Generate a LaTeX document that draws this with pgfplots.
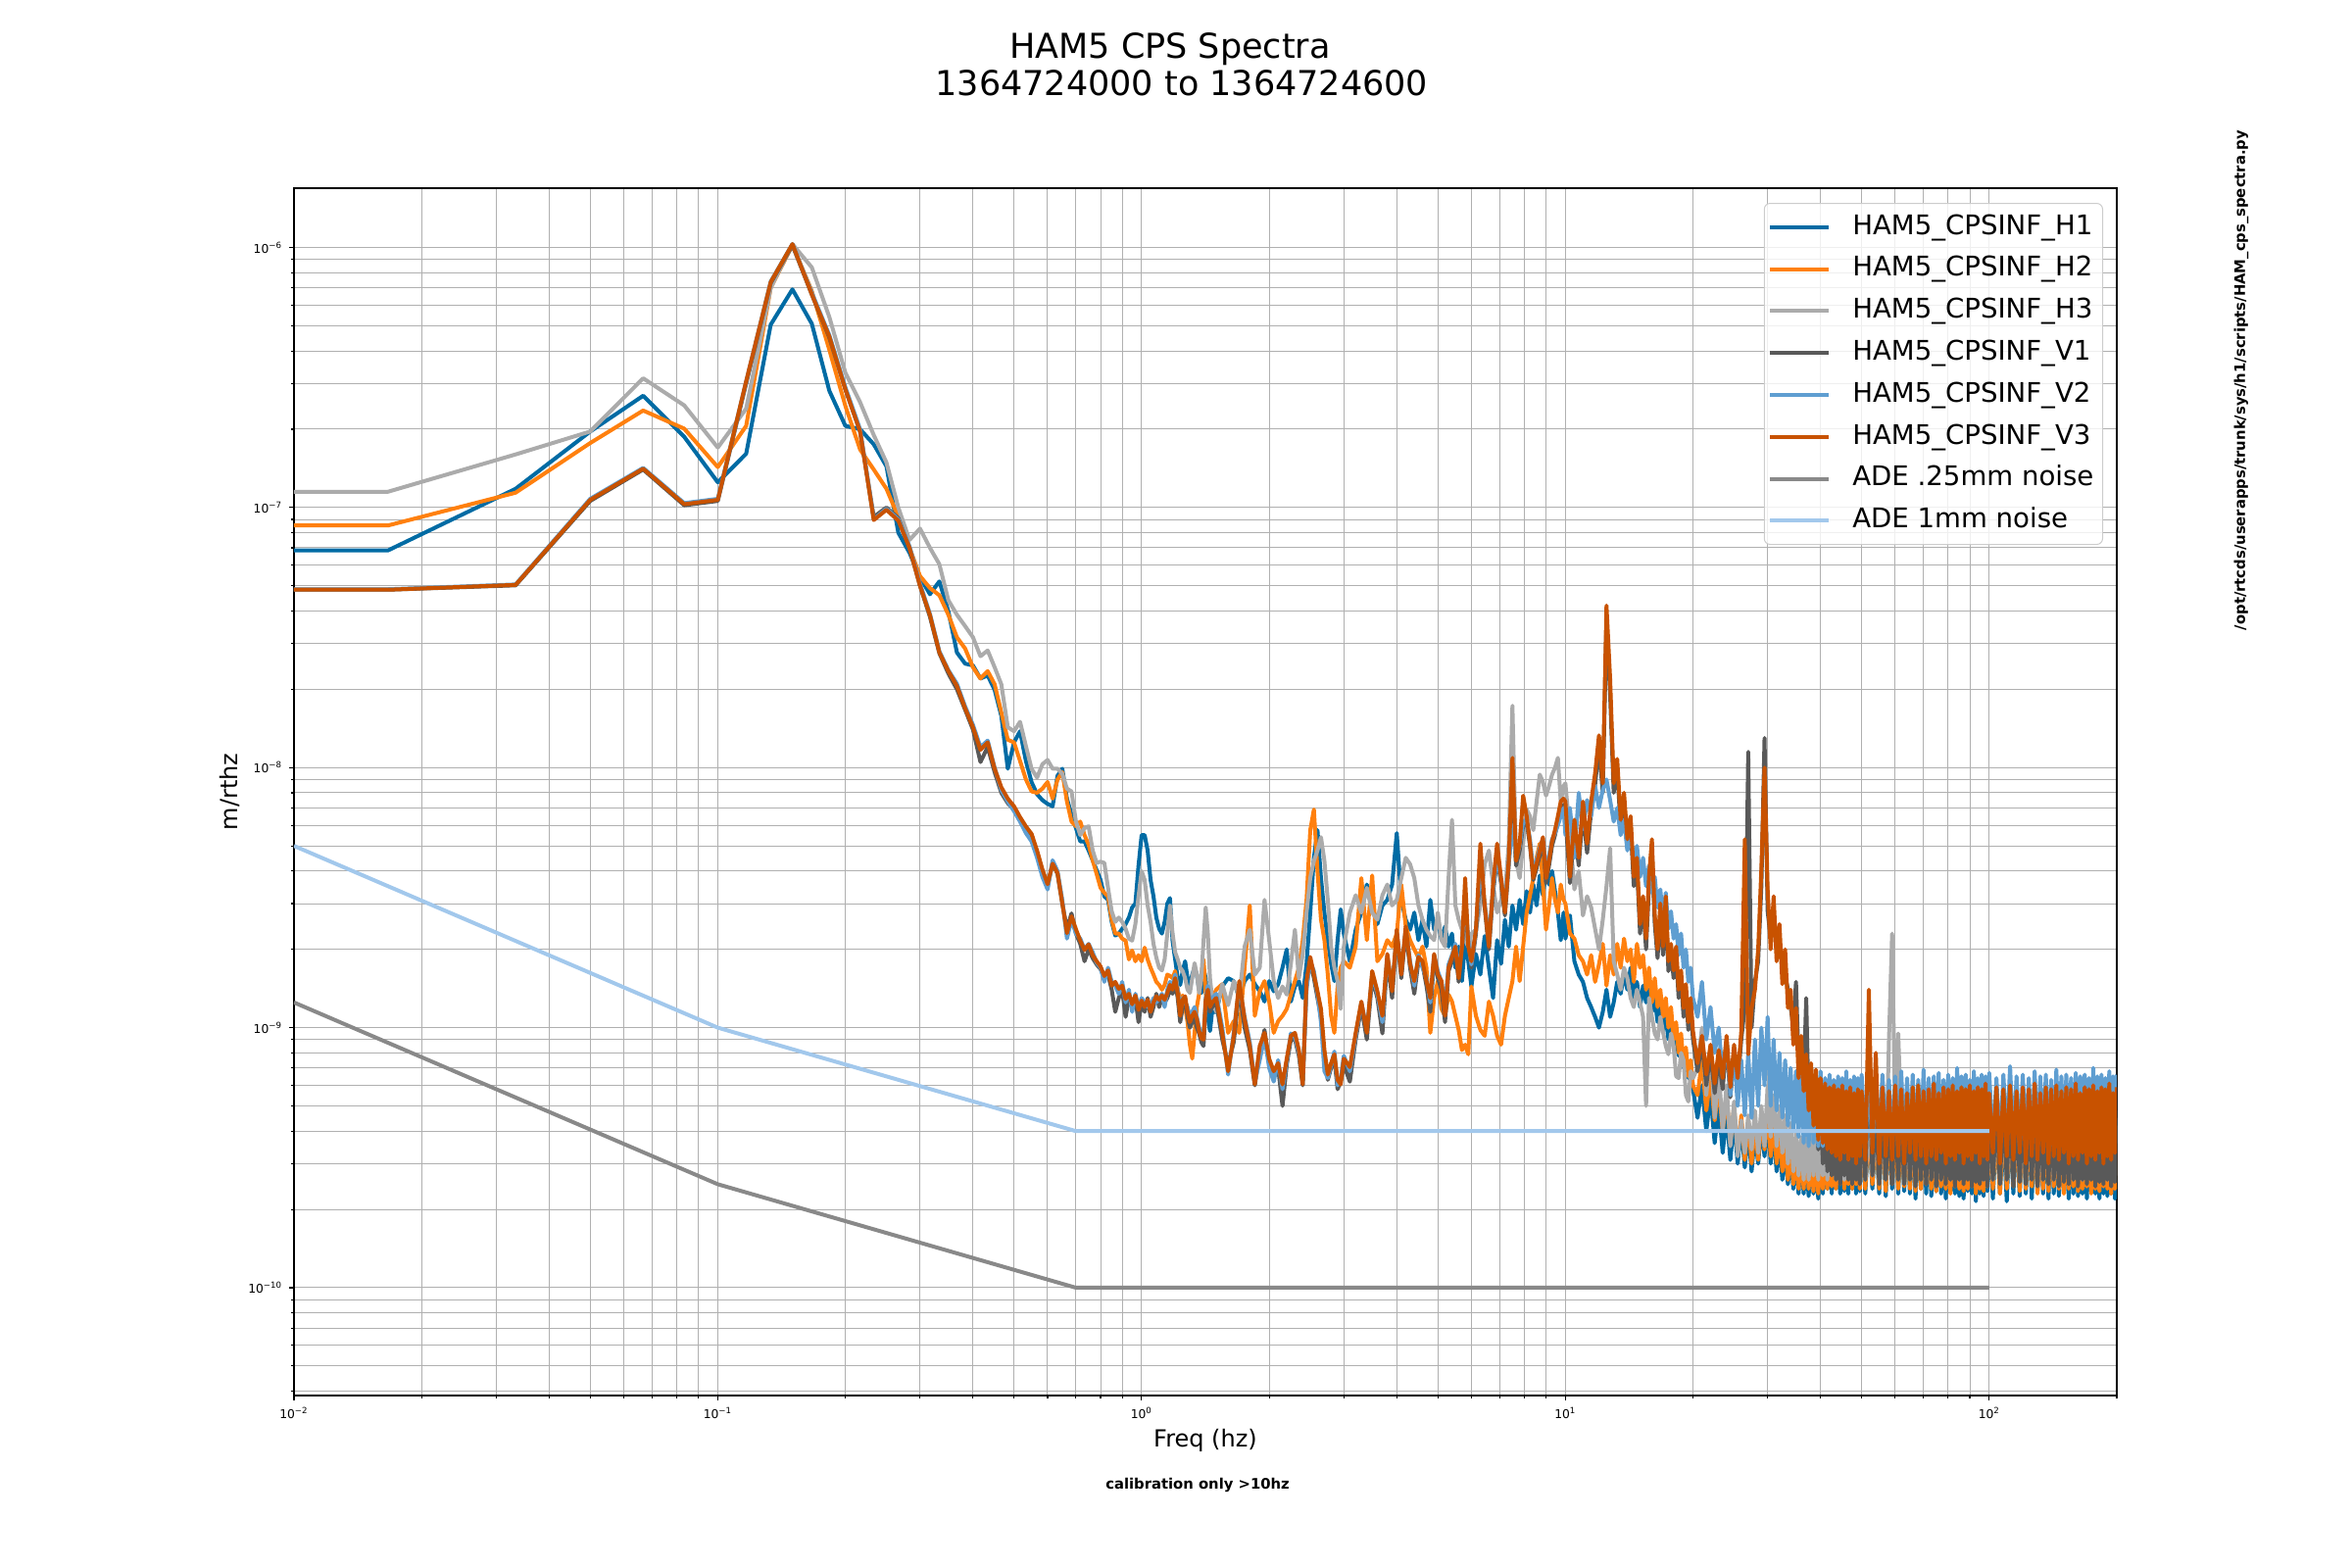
\documentclass[border=0pt]{standalone}
\usepackage{fontspec}
\setmainfont{DejaVu Sans}
\usepackage{pgfplots}
\usepackage{pgfplotstable}
\pgfplotsset{compat=1.18}
\definecolor{cH1}{HTML}{006BA4}
\definecolor{cH2}{HTML}{FF800E}
\definecolor{cH3}{HTML}{ABABAB}
\definecolor{cV1}{HTML}{595959}
\definecolor{cV2}{HTML}{5F9ED1}
\definecolor{cV3}{HTML}{C85200}
\definecolor{cA25}{HTML}{898989}
\definecolor{cA1}{HTML}{A2C8EC}
\definecolor{gridc}{HTML}{B0B0B0}
\definecolor{legc}{HTML}{CCCCCC}
\pgfplotstableread{
f H1 H2 H3 V1 V2 V3
0.01 6.84e-8 8.53e-8 1.15e-7 4.83e-8 4.85e-8 4.83e-8
0.016667 6.84e-8 8.53e-8 1.15e-7 4.83e-8 4.85e-8 4.83e-8
0.033333 1.18e-7 1.14e-7 1.60e-7 5.02e-8 5.06e-8 5.04e-8
0.05 1.96e-7 1.77e-7 1.96e-7 1.06e-7 1.08e-7 1.07e-7
0.066667 2.69e-7 2.36e-7 3.14e-7 1.40e-7 1.42e-7 1.41e-7
0.083333 1.87e-7 2.01e-7 2.47e-7 1.02e-7 1.04e-7 1.03e-7
0.1 1.25e-7 1.43e-7 1.70e-7 1.06e-7 1.08e-7 1.07e-7
0.116667 1.61e-7 2.06e-7 2.40e-7 3.00e-7 3.05e-7 3.06e-7
0.133333 5.05e-7 7.00e-7 7.00e-7 7.30e-7 7.40e-7 7.36e-7
0.15 6.90e-7 1.02e-6 1.03e-6 1.02e-6 1.03e-6 1.03e-6
0.166667 5.09e-7 6.80e-7 8.38e-7 6.60e-7 6.70e-7 6.60e-7
0.183333 2.81e-7 4.04e-7 5.40e-7 4.50e-7 4.60e-7 4.54e-7
0.2 2.06e-7 2.46e-7 3.30e-7 2.85e-7 2.90e-7 2.85e-7
0.216667 2.00e-7 1.67e-7 2.54e-7 1.96e-7 2.00e-7 1.96e-7
0.233333 1.75e-7 1.40e-7 1.90e-7 9.20e-8 9.00e-8 8.95e-8
0.25 1.44e-7 1.18e-7 1.49e-7 1.00e-7 9.90e-8 9.80e-8
0.266667 8.00e-8 9.20e-8 1.00e-7 9.10e-8 9.00e-8 8.90e-8
0.283333 6.70e-8 7.00e-8 7.50e-8 7.00e-8 7.10e-8 7.00e-8
0.3 5.40e-8 5.45e-8 8.30e-8 5.00e-8 5.10e-8 5.00e-8
0.316667 4.64e-8 4.90e-8 7.00e-8 3.80e-8 3.90e-8 3.86e-8
0.333333 5.20e-8 4.60e-8 6.05e-8 2.75e-8 2.80e-8 2.77e-8
0.35 3.99e-8 3.87e-8 4.40e-8 2.30e-8 2.37e-8 2.35e-8
0.366667 2.77e-8 3.17e-8 3.87e-8 2.00e-8 2.10e-8 2.06e-8
0.383333 2.51e-8 2.87e-8 3.50e-8 1.67e-8 1.72e-8 1.69e-8
0.4 2.47e-8 2.43e-8 3.17e-8 1.40e-8 1.46e-8 1.43e-8
0.416667 2.20e-8 2.20e-8 2.68e-8 1.05e-8 1.20e-8 1.17e-8
0.433333 2.26e-8 2.35e-8 2.82e-8 1.20e-8 1.27e-8 1.25e-8
0.45 1.99e-8 2.09e-8 2.43e-8 9.60e-9 1.00e-8 9.90e-9
0.466667 1.58e-8 1.63e-8 2.09e-8 8.00e-9 8.20e-9 8.40e-9
0.483333 9.90e-9 1.28e-8 1.43e-8 7.30e-9 7.40e-9 7.60e-9
0.5 1.25e-8 1.25e-8 1.38e-8 6.90e-9 6.80e-9 7.10e-9
0.516667 1.38e-8 1.06e-8 1.50e-8 6.30e-9 6.20e-9 6.45e-9
0.533333 1.06e-8 9.00e-9 1.21e-8 5.90e-9 5.60e-9 5.94e-9
0.55 8.80e-9 8.10e-9 9.90e-9 5.50e-9 5.20e-9 5.56e-9
0.566667 7.90e-9 8.00e-9 9.15e-9 4.70e-9 4.50e-9 4.80e-9
0.583333 7.50e-9 8.30e-9 1.03e-8 4.00e-9 3.80e-9 4.06e-9
0.6 7.25e-9 8.80e-9 1.07e-8 3.50e-9 3.40e-9 3.56e-9
0.616667 7.10e-9 7.60e-9 9.90e-9 4.30e-9 4.40e-9 4.27e-9
0.633333 9.30e-9 9.00e-9 9.90e-9 3.90e-9 4.00e-9 3.93e-9
0.65 9.90e-9 9.60e-9 9.45e-9 3.00e-9 3.10e-9 3.01e-9
0.666667 7.60e-9 7.40e-9 8.30e-9 2.40e-9 2.20e-9 2.31e-9
0.683333 6.60e-9 6.20e-9 8.10e-9 2.75e-9 2.60e-9 2.68e-9
0.7 5.85e-9 5.95e-9 6.20e-9 2.30e-9 2.30e-9 2.39e-9
0.716667 5.20e-9 6.20e-9 5.50e-9 2.10e-9 2.20e-9 2.16e-9
0.733333 5.20e-9 5.50e-9 5.85e-9 1.80e-9 2.00e-9 1.99e-9
0.75 4.80e-9 5.05e-9 5.95e-9 2.00e-9 2.10e-9 2.09e-9
0.766667 4.40e-9 4.40e-9 4.80e-9 1.85e-9 1.95e-9 1.90e-9
0.783333 4.03e-9 3.90e-9 4.30e-9 1.75e-9 1.78e-9 1.80e-9
0.8 3.70e-9 3.45e-9 4.35e-9 1.68e-9 1.70e-9 1.72e-9
0.816667 3.20e-9 3.30e-9 4.30e-9 1.55e-9 1.50e-9 1.58e-9
0.833333 3.10e-9 3.20e-9 3.45e-9 1.60e-9 1.70e-9 1.66e-9
0.85 2.55e-9 2.60e-9 2.80e-9 1.40e-9 1.50e-9 1.45e-9
0.866667 2.26e-9 2.30e-9 2.55e-9 1.15e-9 1.45e-9 1.50e-9
0.883333 2.30e-9 2.30e-9 2.65e-9 1.30e-9 1.35e-9 1.41e-9
0.9 2.40e-9 2.20e-9 2.55e-9 1.40e-9 1.50e-9 1.45e-9
0.916667 2.50e-9 2.16e-9 2.40e-9 1.10e-9 1.25e-9 1.29e-9
0.933333 2.65e-9 1.83e-9 2.20e-9 1.30e-9 1.40e-9 1.35e-9
0.95 2.90e-9 1.98e-9 2.16e-9 1.20e-9 1.15e-9 1.23e-9
0.966667 3.00e-9 1.80e-9 2.50e-9 1.30e-9 1.35e-9 1.33e-9
0.983333 4.20e-9 1.90e-9 3.20e-9 1.05e-9 1.20e-9 1.17e-9
1.0 5.50e-9 1.80e-9 4.00e-9 1.25e-9 1.30e-9 1.27e-9
1.016667 5.50e-9 2.03e-9 3.70e-9 1.15e-9 1.25e-9 1.20e-9
1.033333 4.80e-9 1.83e-9 2.95e-9 1.30e-9 1.20e-9 1.28e-9
1.05 3.70e-9 1.70e-9 2.55e-9 1.10e-9 1.20e-9 1.15e-9
1.066667 3.20e-9 1.60e-9 2.10e-9 1.20e-9 1.30e-9 1.25e-9
1.083333 2.65e-9 1.50e-9 1.86e-9 1.35e-9 1.25e-9 1.32e-9
1.1 2.40e-9 1.46e-9 1.70e-9 1.20e-9 1.30e-9 1.28e-9
1.116667 2.30e-9 1.40e-9 1.66e-9 1.30e-9 1.35e-9 1.33e-9
1.133333 2.55e-9 1.46e-9 1.83e-9 1.25e-9 1.20e-9 1.28e-9
1.15 3.00e-9 1.60e-9 2.30e-9 1.30e-9 1.40e-9 1.36e-9
1.166667 3.15e-9 1.58e-9 2.95e-9 1.40e-9 1.50e-9 1.46e-9
1.183333 2.15e-9 1.55e-9 2.30e-9 1.35e-9 1.45e-9 1.40e-9
1.2 1.83e-9 1.65e-9 1.95e-9 1.50e-9 1.60e-9 1.55e-9
1.216667 1.55e-9 1.40e-9 1.83e-9 1.30e-9 1.40e-9 1.36e-9
1.233333 1.46e-9 1.28e-9 1.70e-9 1.05e-9 1.15e-9 1.11e-9
1.25 1.65e-9 1.33e-9 1.65e-9 1.20e-9 1.30e-9 1.28e-9
1.266667 1.80e-9 1.20e-9 1.55e-9 1.30e-9 1.25e-9 1.32e-9
1.283333 1.55e-9 1.05e-9 1.40e-9 1.10e-9 1.20e-9 1.15e-9
1.3 1.46e-9 8.60e-10 1.36e-9 1.00e-9 1.10e-9 1.05e-9
1.316667 1.60e-9 7.60e-10 1.55e-9 1.05e-9 1.15e-9 1.11e-9
1.333333 1.70e-9 9.50e-10 1.77e-9 1.10e-9 1.20e-9 1.15e-9
1.35 1.60e-9 1.20e-9 1.60e-9 1.00e-9 1.10e-9 1.08e-9
1.366667 1.40e-9 1.35e-9 1.36e-9 9.50e-10 1.00e-9 9.70e-10
1.383333 1.36e-9 1.60e-9 1.55e-9 8.80e-10 9.50e-10 9.10e-10
1.4 1.70e-9 1.83e-9 2.16e-9 8.50e-10 9.20e-10 9.00e-10
1.416667 1.55e-9 1.35e-9 2.90e-9 1.20e-9 1.30e-9 1.28e-9
1.433333 1.10e-9 1.25e-9 2.30e-9 1.35e-9 1.45e-9 1.40e-9
1.45 9.70e-10 1.28e-9 1.55e-9 1.15e-9 1.25e-9 1.20e-9
1.466667 1.15e-9 1.30e-9 1.30e-9 1.20e-9 1.30e-9 1.25e-9
1.5 1.15e-9 1.40e-9 1.15e-9 1.25e-9 1.35e-9 1.30e-9
1.55 1.44e-9 1.47e-9 1.47e-9 9.0e-10 1.0e-9 9.55e-10
1.6 1.55e-9 9.55e-10 1.22e-9 7.2e-10 6.6e-10 6.8e-10
1.65 1.51e-9 1.06e-9 1.51e-9 8.8e-10 9.6e-10 9.3e-10
1.7 1.30e-9 9.55e-10 1.30e-9 1.40e-9 1.45e-9 1.51e-9
1.75 1.51e-9 1.70e-9 2.05e-9 1.00e-9 1.10e-9 1.08e-9
1.8 1.60e-9 2.95e-9 2.38e-9 8.2e-10 8.8e-10 8.5e-10
1.85 1.47e-9 1.11e-9 1.60e-9 6.0e-10 6.2e-10 6.05e-10
1.9 1.38e-9 1.38e-9 1.70e-9 8.0e-10 7.5e-10 8.5e-10
1.95 1.26e-9 1.51e-9 3.10e-9 9.8e-10 9.2e-10 9.55e-10
2.0 1.51e-9 1.26e-9 2.17e-9 7.3e-10 7.0e-10 7.6e-10
2.05 1.38e-9 9.55e-10 1.51e-9 6.5e-10 6.2e-10 6.8e-10
2.1 1.47e-9 1.06e-9 1.30e-9 7.0e-10 7.5e-10 7.3e-10
2.15 1.70e-9 1.11e-9 1.44e-9 5.0e-10 5.8e-10 6.05e-10
2.2 2.00e-9 1.18e-9 1.34e-9 7.2e-10 7.4e-10 7.6e-10
2.25 1.26e-9 1.34e-9 1.76e-9 9.0e-10 9.5e-10 9.3e-10
2.3 1.44e-9 1.51e-9 2.38e-9 9.0e-10 9.2e-10 9.55e-10
2.35 1.51e-9 1.70e-9 1.55e-9 7.8e-10 8.0e-10 8.2e-10
2.4 1.30e-9 2.17e-9 1.92e-9 6.0e-10 6.3e-10 6.05e-10
2.45 1.76e-9 3.10e-9 2.77e-9 1.45e-9 1.40e-9 1.51e-9
2.5 2.77e-9 5.75e-9 3.76e-9 1.80e-9 1.80e-9 1.87e-9
2.55 4.50e-9 6.90e-9 4.38e-9 1.55e-9 1.65e-9 1.60e-9
2.6 5.75e-9 4.00e-9 4.80e-9 1.30e-9 1.35e-9 1.38e-9
2.65 3.76e-9 2.60e-9 5.40e-9 1.10e-9 1.05e-9 1.18e-9
2.7 2.77e-9 2.17e-9 4.38e-9 7.8e-10 6.8e-10 8.2e-10
2.75 2.17e-9 1.60e-9 3.10e-9 6.3e-10 6.4e-10 6.6e-10
2.8 1.76e-9 1.11e-9 2.05e-9 7.0e-10 7.2e-10 7.3e-10
2.85 1.51e-9 9.55e-10 1.70e-9 7.6e-10 8.1e-10 7.9e-10
2.9 2.17e-9 1.44e-9 1.51e-9 5.8e-10 6.0e-10 6.3e-10
2.95 2.85e-9 1.70e-9 1.18e-9 6.2e-10 6.4e-10 6.05e-10
3.0 2.30e-9 1.80e-9 2.05e-9 7.2e-10 7.8e-10 7.6e-10
3.1 1.80e-9 1.70e-9 2.77e-9 6.2e-10 6.8e-10 7.05e-10
3.2 2.38e-9 2.05e-9 3.23e-9 9.0e-10 9.3e-10 9.55e-10
3.3 2.77e-9 3.76e-9 2.77e-9 1.20e-9 1.25e-9 1.26e-9
3.4 3.55e-9 2.17e-9 3.45e-9 9.0e-10 9.8e-10 9.55e-10
3.5 2.95e-9 3.85e-9 2.77e-9 1.55e-9 1.60e-9 1.65e-9
3.6 2.50e-9 1.80e-9 2.60e-9 1.30e-9 1.35e-9 1.38e-9
3.7 2.95e-9 1.92e-9 3.23e-9 9.5e-10 1.05e-9 1.11e-9
3.8 3.10e-9 2.17e-9 3.55e-9 1.85e-9 1.90e-9 1.92e-9
3.9 3.55e-9 2.05e-9 2.95e-9 1.30e-9 1.40e-9 1.38e-9
4.0 5.60e-9 2.30e-9 3.10e-9 2.30e-9 2.30e-9 2.38e-9
4.1 3.10e-9 3.55e-9 3.76e-9 1.55e-9 1.65e-9 1.60e-9
4.2 2.60e-9 2.45e-9 4.50e-9 2.35e-9 2.40e-9 2.45e-9
4.3 2.38e-9 2.17e-9 4.25e-9 1.70e-9 1.80e-9 1.76e-9
4.4 2.77e-9 2.00e-9 3.76e-9 1.35e-9 1.45e-9 1.51e-9
4.5 2.17e-9 1.86e-9 2.95e-9 1.80e-9 1.90e-9 1.87e-9
4.6 2.60e-9 2.05e-9 2.60e-9 1.75e-9 1.70e-9 1.80e-9
4.7 2.05e-9 1.70e-9 2.38e-9 1.45e-9 1.55e-9 1.51e-9
4.8 3.10e-9 9.55e-10 2.25e-9 1.15e-9 1.25e-9 1.30e-9
4.9 2.38e-9 1.30e-9 2.17e-9 1.85e-9 1.90e-9 1.92e-9
5.0 2.60e-9 1.51e-9 2.77e-9 1.55e-9 1.65e-9 1.60e-9
5.1 2.17e-9 1.18e-9 2.17e-9 1.40e-9 1.50e-9 1.51e-9
5.2 2.45e-9 1.11e-9 2.05e-9 1.05e-9 1.20e-9 1.11e-9
5.3 2.05e-9 1.34e-9 3.76e-9 1.65e-9 1.75e-9 1.70e-9
5.4 2.30e-9 1.26e-9 6.30e-9 1.80e-9 1.90e-9 1.87e-9
5.5 1.70e-9 1.11e-9 2.95e-9 2.00e-9 2.10e-9 2.05e-9
5.6 2.05e-9 9.8e-10 2.60e-9 1.50e-9 1.60e-9 1.55e-9
5.7 1.51e-9 8.2e-10 2.38e-9 2.00e-9 2.10e-9 2.05e-9
5.8 2.17e-9 8.6e-10 2.17e-9 3.00e-9 3.20e-9 3.76e-9
5.9 1.80e-9 7.9e-10 2.05e-9 2.10e-9 2.15e-9 2.05e-9
6.0 1.44e-9 1.44e-9 2.30e-9 1.70e-9 1.75e-9 1.80e-9
6.15 1.92e-9 1.11e-9 2.38e-9 2.30e-9 2.40e-9 2.38e-9
6.3 1.60e-9 9.8e-10 2.95e-9 4.00e-9 4.20e-9 5.10e-9
6.45 2.25e-9 9.3e-10 4.25e-9 2.90e-9 3.00e-9 2.95e-9
6.6 1.70e-9 1.26e-9 4.80e-9 2.00e-9 2.20e-9 2.05e-9
6.75 1.30e-9 1.11e-9 3.55e-9 3.30e-9 3.40e-9 3.55e-9
6.9 2.17e-9 9.3e-10 2.77e-9 4.50e-9 4.60e-9 5.10e-9
7.05 1.76e-9 8.6e-10 3.10e-9 3.60e-9 3.70e-9 3.76e-9
7.2 2.60e-9 1.11e-9 3.23e-9 2.70e-9 2.90e-9 2.77e-9
7.35 2.05e-9 1.30e-9 5.10e-9 4.20e-9 4.30e-9 4.38e-9
7.5 2.95e-9 1.51e-9 1.73e-8 7.00e-9 6.00e-9 1.09e-8
7.65 2.38e-9 2.05e-9 4.38e-9 4.20e-9 4.50e-9 4.38e-9
7.8 3.10e-9 1.51e-9 3.76e-9 4.80e-9 5.00e-9 5.10e-9
7.95 2.50e-9 2.05e-9 5.10e-9 6.00e-9 6.20e-9 7.80e-9
8.1 3.35e-9 2.77e-9 6.90e-9 6.20e-9 6.30e-9 6.50e-9
8.25 2.77e-9 3.23e-9 6.50e-9 5.00e-9 5.30e-9 5.10e-9
8.4 3.55e-9 3.76e-9 5.75e-9 3.70e-9 4.00e-9 3.76e-9
8.55 2.95e-9 4.50e-9 7.40e-9 4.10e-9 4.40e-9 4.25e-9
8.7 3.85e-9 5.10e-9 9.40e-9 4.60e-9 4.90e-9 4.80e-9
8.85 3.23e-9 3.55e-9 8.80e-9 5.20e-9 5.30e-9 5.40e-9
9.0 4.00e-9 2.38e-9 7.80e-9 3.60e-9 4.00e-9 3.76e-9
9.15 3.55e-9 2.95e-9 8.50e-9 4.20e-9 4.60e-9 4.38e-9
9.3 4.00e-9 3.76e-9 9.40e-9 5.00e-9 5.30e-9 5.20e-9
9.45 3.35e-9 3.10e-9 1.00e-8 5.50e-9 5.60e-9 5.75e-9
9.6 2.77e-9 2.77e-9 1.09e-8 6.20e-9 6.00e-9 6.50e-9
9.75 2.17e-9 3.55e-9 7.40e-9 7.00e-9 6.50e-9 7.40e-9
9.9 2.77e-9 3.10e-9 8.50e-9 7.20e-9 7.00e-9 7.60e-9
10 2.2e-9 3.0e-9 8.7e-9 6.5e-9 5.5e-9 7.4e-9
10.25 2.7e-9 2.3e-9 5.5e-9 3.6e-9 7.0e-9 3.8e-9
10.5 1.8e-9 2.2e-9 3.4e-9 5.8e-9 4.5e-9 6.3e-9
10.75 1.6e-9 1.9e-9 4.0e-9 4.2e-9 8.0e-9 4.5e-9
11 1.5e-9 1.8e-9 2.7e-9 6.8e-9 5.8e-9 7.4e-9
11.25 1.3e-9 1.6e-9 3.2e-9 4.7e-9 7.5e-9 5.1e-9
11.5 1.2e-9 1.9e-9 2.9e-9 6.8e-9 6.5e-9 7.4e-9
11.75 1.1e-9 1.5e-9 2.4e-9 8.6e-9 8.5e-9 9.5e-9
12 1.0e-9 1.75e-9 2.0e-9 1.2e-8 7.0e-9 1.33e-8
12.25 1.15e-9 2.1e-9 2.6e-9 8.0e-9 8.2e-9 8.7e-9
12.5 1.4e-9 1.45e-9 3.5e-9 3.6e-8 9.0e-9 4.2e-8
12.75 1.1e-9 1.9e-9 4.9e-9 1.9e-8 7.5e-9 2.2e-8
13 1.25e-9 1.6e-9 1.8e-9 8.0e-9 6.2e-9 8.7e-9
13.25 1.5e-9 2.1e-9 1.6e-9 1.0e-8 7.0e-9 1.08e-8
13.5 1.35e-9 1.7e-9 1.4e-9 5.8e-9 5.5e-9 6.3e-9
13.75 1.6e-9 2.2e-9 1.7e-9 7.4e-9 6.3e-9 8.0e-9
14 1.4e-9 1.8e-9 1.55e-9 4.9e-9 4.8e-9 5.3e-9
14.25 1.7e-9 2.0e-9 1.3e-9 6.0e-9 5.6e-9 6.5e-9
14.5 1.3e-9 1.5e-9 1.2e-9 3.5e-9 4.3e-9 3.8e-9
14.75 1.5e-9 2.1e-9 1.4e-9 4.2e-9 5.0e-9 4.5e-9
15 1.2e-9 1.7e-9 1.25e-9 2.3e-9 3.8e-9 2.5e-9
15.25 1.45e-9 1.9e-9 1.1e-9 3.0e-9 4.5e-9 3.2e-9
15.5 1.25e-9 1.4e-9 5.0e-10 2.0e-9 3.5e-9 2.2e-9
15.75 1.4e-9 1.7e-9 1.3e-9 3.5e-9 4.2e-9 3.8e-9
16 1.15e-9 1.25e-9 1.1e-9 4.8e-9 3.3e-9 5.3e-9
16.25 1.3e-9 1.55e-9 9.5e-10 2.5e-9 3.8e-9 2.7e-9
16.5 1.05e-9 1.2e-9 9.0e-10 1.85e-9 2.9e-9 2.0e-9
16.75 1.2e-9 1.4e-9 1.1e-9 2.8e-9 3.4e-9 3.0e-9
17 9.8e-10 1.1e-9 9.6e-10 1.9e-9 2.6e-9 2.05e-9
17.25 1.1e-9 1.3e-9 8.5e-10 3.0e-9 3.3e-9 3.2e-9
17.5 9.0e-10 1.0e-9 7.9e-10 1.65e-9 2.4e-9 1.8e-9
17.75 1.0e-9 1.2e-9 9.5e-10 1.95e-9 2.8e-9 2.1e-9
18 8.5e-10 9.0e-10 8.5e-10 1.55e-9 2.2e-9 1.66e-9
18.25 9.2e-10 1.05e-9 6.5e-10 1.9e-9 2.5e-9 2.05e-9
18.5 7.8e-10 8.0e-10 6.4e-10 1.3e-9 1.9e-9 1.4e-9
18.75 8.6e-10 9.5e-10 8.0e-10 1.55e-9 2.3e-9 1.66e-9
19 7.0e-10 7.2e-10 7.5e-10 1.1e-9 1.7e-9 1.19e-9
19.25 7.8e-10 8.4e-10 5.5e-10 1.35e-9 2.0e-9 1.47e-9
19.5 6.4e-10 6.5e-10 5.2e-10 9.8e-10 1.5e-9 1.05e-9
19.75 7.2e-10 7.5e-10 6.8e-10 1.2e-9 1.7e-9 1.3e-9
20 5.8e-10 6.0e-10 6.4e-10 9.0e-10 1.3e-9 9.7e-10
20.5 4.5e-10 5.5e-10 7.0e-10 6.8e-10 1.1e-9 7.3e-10
21 6.0e-10 7.5e-10 1.0e-9 8.8e-10 1.5e-9 9.3e-10
21.5 4.0e-10 4.8e-10 5.5e-10 6.0e-10 9.0e-10 6.6e-10
22 5.5e-10 6.5e-10 8.5e-10 8.0e-10 1.2e-9 8.6e-10
22.5 3.6e-10 4.4e-10 4.5e-10 5.6e-10 8.0e-10 6.1e-10
23 5.0e-10 6.0e-10 7.0e-10 7.6e-10 1.0e-9 8.2e-10
23.5 3.3e-10 4.0e-10 4.0e-10 5.8e-10 6.5e-10 6.4e-10
24 4.6e-10 5.5e-10 6.0e-10 8.8e-10 9.0e-10 9.3e-10
24.5 3.1e-10 3.6e-10 3.5e-10 5.4e-10 5.5e-10 5.9e-10
25 4.4e-10 5.0e-10 5.2e-10 8.0e-10 8.0e-10 8.6e-10
25.5 3.0e-10 3.3e-10 3.2e-10 6.0e-10 5.0e-10 6.4e-10
26 4.2e-10 4.6e-10 4.4e-10 9.0e-10 7.5e-10 9.7e-10
26.5 2.9e-10 3.1e-10 3.3e-10 1.2e-9 4.6e-10 5.3e-9
27 4.0e-10 4.4e-10 4.6e-10 1.15e-8 8.0e-10 7.9e-10
27.5 2.8e-10 3.0e-10 3.4e-10 1.0e-9 4.5e-10 1.19e-9
28 3.9e-10 4.3e-10 4.8e-10 1.5e-9 9.0e-10 1.4e-9
28.5 3.0e-10 3.1e-10 3.3e-10 1.8e-9 5.0e-10 2.0e-9
29 4.2e-10 4.6e-10 5.0e-10 3.5e-9 1.0e-9 4.1e-9
29.5 3.2e-10 3.4e-10 3.5e-10 1.3e-8 6.0e-10 1.0e-8
30 4.5e-10 5.0e-10 6.0e-10 2.8e-9 1.1e-9 3.4e-9
30.5 3.0e-10 3.2e-10 3.8e-10 2.2e-9 5.0e-10 2.0e-9
31 4.0e-10 4.4e-10 5.5e-10 2.4e-9 9.0e-10 3.2e-9
31.5 2.8e-10 3.0e-10 3.5e-10 2.3e-9 4.8e-10 1.8e-9
32 3.6e-10 4.0e-10 5.0e-10 2.0e-9 8.0e-10 2.5e-9
32.5 2.6e-10 2.8e-10 3.3e-10 1.9e-9 4.5e-10 1.47e-9
33 3.4e-10 3.6e-10 4.6e-10 1.6e-9 7.5e-10 2.0e-9
33.5 2.5e-10 2.6e-10 3.0e-10 1.4e-9 4.2e-10 1.19e-9
34 3.3e-10 3.5e-10 4.3e-10 1.2e-9 7.0e-10 1.4e-9
34.5 2.4e-10 2.5e-10 2.8e-10 1.0e-9 4.0e-10 8.6e-10
35 3.2e-10 3.4e-10 4.0e-10 1.5e-9 6.8e-10 1.19e-9
35.5 2.3e-10 2.4e-10 2.7e-10 7.5e-10 3.8e-10 6.4e-10
36 3.3e-10 3.3e-10 3.8e-10 9.0e-10 7.2e-10 9.3e-10
36.5 2.3e-10 2.4e-10 2.6e-10 6.2e-10 3.6e-10 5.7e-10
37 3.1e-10 3.5e-10 4.0e-10 1.3e-9 6.6e-10 7.9e-10
37.5 2.25e-10 2.4e-10 2.6e-10 5.0e-10 3.5e-10 4.8e-10
38 3.4e-10 3.3e-10 3.9e-10 6.5e-10 7.0e-10 7.3e-10
38.5 2.3e-10 2.35e-10 2.7e-10 4.0e-10 3.6e-10 4.2e-10
39 3.2e-10 3.6e-10 4.1e-10 5.6e-10 6.6e-10 6.9e-10
39.5 2.2e-10 2.3e-10 2.6e-10 3.4e-10 3.5e-10 3.7e-10
40 3.5e-10 3.8e-10 4.2e-10 5.2e-10 6.8e-10 6.4e-10
40.5 2.3e-10 2.4e-10 2.7e-10 3.0e-10 3.5e-10 3.6e-10
41 3.8e-10 4.0e-10 4.3e-10 5.0e-10 6.4e-10 6.1e-10
41.5 2.4e-10 2.4e-10 2.6e-10 2.8e-10 3.6e-10 3.4e-10
42 4.0e-10 4.2e-10 4.4e-10 4.8e-10 6.6e-10 5.9e-10
42.5 2.3e-10 2.45e-10 2.7e-10 2.7e-10 3.5e-10 3.3e-10
43 4.2e-10 4.0e-10 4.2e-10 5.0e-10 6.3e-10 6.0e-10
43.5 2.4e-10 2.4e-10 2.6e-10 2.6e-10 3.7e-10 3.2e-10
44 4.0e-10 4.3e-10 4.5e-10 4.9e-10 6.5e-10 5.8e-10
44.5 2.3e-10 2.5e-10 2.7e-10 2.5e-10 3.5e-10 3.1e-10
45 4.3e-10 4.1e-10 4.3e-10 4.8e-10 6.4e-10 6.0e-10
45.5 2.35e-10 2.4e-10 2.6e-10 2.7e-10 3.6e-10 3.3e-10
46 4.1e-10 4.4e-10 4.4e-10 5.0e-10 6.8e-10 5.7e-10
46.5 2.3e-10 2.5e-10 2.7e-10 2.6e-10 3.5e-10 3.1e-10
47 4.4e-10 4.2e-10 4.2e-10 4.7e-10 6.3e-10 5.9e-10
47.5 2.4e-10 2.4e-10 2.6e-10 2.5e-10 3.6e-10 3.2e-10
48 4.2e-10 4.4e-10 4.4e-10 4.9e-10 6.5e-10 5.6e-10
48.5 2.3e-10 2.5e-10 2.7e-10 2.6e-10 3.5e-10 3.0e-10
49 4.4e-10 4.3e-10 4.3e-10 4.8e-10 6.4e-10 5.8e-10
49.5 2.35e-10 2.4e-10 2.6e-10 2.5e-10 3.6e-10 3.2e-10
50 4.3e-10 4.4e-10 4.4e-10 4.9e-10 6.6e-10 5.7e-10
51 2.3e-10 2.4e-10 2.6e-10 2.6e-10 3.6e-10 3.1e-10
52 4.2e-10 4.3e-10 4.4e-10 8.0e-10 6.6e-10 1.40e-9
53 2.4e-10 2.5e-10 2.7e-10 2.7e-10 3.5e-10 3.3e-10
54 4.0e-10 4.1e-10 4.3e-10 5.0e-10 6.4e-10 8.0e-10
55 2.3e-10 2.4e-10 2.6e-10 2.5e-10 3.7e-10 3.0e-10
56 4.3e-10 4.4e-10 4.5e-10 4.8e-10 6.6e-10 5.9e-10
57 2.25e-10 2.35e-10 2.6e-10 2.6e-10 3.5e-10 3.2e-10
58 4.1e-10 4.2e-10 9.0e-10 4.9e-10 6.3e-10 5.7e-10
59 2.4e-10 2.5e-10 2.3e-9 2.5e-10 3.6e-10 3.1e-10
60 4.4e-10 4.3e-10 4.4e-10 5.0e-10 6.5e-10 6.0e-10
61 2.3e-10 2.4e-10 9.5e-10 2.6e-10 3.5e-10 3.2e-10
62 4.2e-10 4.4e-10 4.3e-10 4.8e-10 6.8e-10 5.8e-10
63 2.35e-10 2.45e-10 2.7e-10 2.5e-10 3.6e-10 3.0e-10
64 4.0e-10 4.2e-10 4.5e-10 5.1e-10 6.4e-10 5.6e-10
65 2.3e-10 2.4e-10 2.6e-10 2.6e-10 3.7e-10 3.3e-10
66 4.3e-10 4.1e-10 4.4e-10 4.9e-10 6.6e-10 5.9e-10
67 2.2e-10 2.35e-10 2.6e-10 2.45e-10 3.5e-10 3.1e-10
68 4.1e-10 4.3e-10 4.2e-10 5.0e-10 6.3e-10 6.0e-10
69 2.4e-10 2.4e-10 2.7e-10 2.6e-10 3.6e-10 3.2e-10
70 4.4e-10 4.2e-10 4.5e-10 4.8e-10 6.9e-10 5.7e-10
71 2.3e-10 2.5e-10 2.6e-10 2.5e-10 3.5e-10 3.0e-10
72 4.2e-10 4.4e-10 4.3e-10 5.0e-10 6.4e-10 5.8e-10
73 2.25e-10 2.4e-10 2.7e-10 2.6e-10 3.7e-10 3.2e-10
74 4.0e-10 4.1e-10 4.4e-10 4.9e-10 6.5e-10 6.1e-10
75 2.35e-10 2.35e-10 2.6e-10 2.45e-10 3.6e-10 3.1e-10
76 4.3e-10 4.3e-10 4.5e-10 5.1e-10 6.7e-10 5.6e-10
77 2.3e-10 2.45e-10 2.6e-10 2.6e-10 3.5e-10 3.3e-10
78 4.1e-10 4.2e-10 4.3e-10 4.8e-10 6.3e-10 5.9e-10
79 2.2e-10 2.4e-10 2.7e-10 2.5e-10 3.6e-10 3.0e-10
80 4.4e-10 4.4e-10 4.4e-10 5.0e-10 6.6e-10 5.8e-10
81 2.35e-10 2.3e-10 2.6e-10 2.6e-10 3.7e-10 3.2e-10
82 4.2e-10 4.2e-10 4.2e-10 4.9e-10 6.4e-10 6.0e-10
83 2.3e-10 2.45e-10 2.7e-10 2.45e-10 3.5e-10 3.1e-10
84 4.0e-10 4.3e-10 4.5e-10 5.0e-10 7.0e-10 5.7e-10
85 2.25e-10 2.4e-10 2.6e-10 2.6e-10 3.6e-10 3.3e-10
86 4.3e-10 4.1e-10 4.4e-10 4.8e-10 6.5e-10 5.9e-10
87 2.2e-10 2.35e-10 2.6e-10 2.5e-10 3.5e-10 3.0e-10
88 4.1e-10 4.4e-10 4.3e-10 5.1e-10 6.6e-10 5.8e-10
89 2.35e-10 2.4e-10 2.7e-10 2.6e-10 3.7e-10 3.2e-10
90 4.4e-10 4.2e-10 4.5e-10 4.9e-10 6.3e-10 6.0e-10
91 2.3e-10 2.45e-10 2.6e-10 2.45e-10 3.6e-10 3.1e-10
92 4.2e-10 4.3e-10 4.4e-10 5.0e-10 6.8e-10 5.7e-10
93 2.15e-10 2.3e-10 2.6e-10 2.55e-10 3.5e-10 3.3e-10
94 4.0e-10 4.2e-10 4.2e-10 4.8e-10 6.4e-10 5.9e-10
95 2.3e-10 2.4e-10 2.7e-10 2.5e-10 3.6e-10 3.0e-10
96 4.3e-10 4.4e-10 4.5e-10 5.0e-10 6.6e-10 5.8e-10
97 2.25e-10 2.35e-10 2.6e-10 2.6e-10 3.7e-10 3.2e-10
98 4.1e-10 4.1e-10 4.3e-10 4.9e-10 6.5e-10 6.1e-10
99 2.35e-10 2.45e-10 2.6e-10 2.45e-10 3.5e-10 3.1e-10
100 4.4e-10 4.3e-10 4.4e-10 5.1e-10 6.7e-10 5.6e-10
102 2.2e-10 2.4e-10 2.6e-10 2.6e-10 3.6e-10 3.3e-10
104 4.2e-10 4.2e-10 4.5e-10 4.8e-10 6.4e-10 5.9e-10
106 2.3e-10 2.3e-10 2.7e-10 2.5e-10 3.5e-10 3.0e-10
108 4.0e-10 4.4e-10 4.3e-10 5.0e-10 6.6e-10 5.8e-10
110 2.15e-10 2.4e-10 2.6e-10 2.6e-10 3.7e-10 3.2e-10
112 4.3e-10 4.3e-10 4.4e-10 4.9e-10 7.1e-10 6.0e-10
114 2.3e-10 2.45e-10 2.7e-10 2.45e-10 3.6e-10 3.1e-10
116 4.1e-10 4.1e-10 4.2e-10 5.0e-10 6.5e-10 5.7e-10
118 2.25e-10 2.35e-10 2.6e-10 2.55e-10 3.5e-10 3.3e-10
120 4.4e-10 4.4e-10 4.5e-10 4.8e-10 6.6e-10 5.9e-10
122 2.3e-10 2.4e-10 2.6e-10 2.5e-10 3.7e-10 3.0e-10
124 4.2e-10 4.2e-10 4.3e-10 5.1e-10 6.4e-10 5.8e-10
126 2.2e-10 2.45e-10 2.7e-10 2.6e-10 3.6e-10 3.2e-10
128 4.0e-10 4.3e-10 4.4e-10 4.9e-10 6.8e-10 6.1e-10
130 2.35e-10 2.3e-10 2.6e-10 2.45e-10 3.5e-10 3.1e-10
132 4.3e-10 4.1e-10 4.5e-10 5.0e-10 6.5e-10 5.6e-10
134 2.3e-10 2.4e-10 2.6e-10 2.6e-10 3.7e-10 3.3e-10
136 4.1e-10 4.4e-10 4.3e-10 4.8e-10 6.6e-10 5.9e-10
138 2.2e-10 2.35e-10 2.7e-10 2.5e-10 3.6e-10 3.0e-10
140 4.4e-10 4.2e-10 4.4e-10 5.0e-10 6.3e-10 5.8e-10
142 2.3e-10 2.45e-10 2.6e-10 2.6e-10 3.5e-10 3.2e-10
144 4.2e-10 4.3e-10 4.2e-10 4.9e-10 6.9e-10 6.0e-10
146 2.25e-10 2.4e-10 2.6e-10 2.45e-10 3.7e-10 3.1e-10
148 4.0e-10 4.1e-10 4.5e-10 5.1e-10 6.5e-10 5.7e-10
150 2.35e-10 2.3e-10 2.7e-10 2.55e-10 3.6e-10 3.3e-10
152 4.3e-10 4.4e-10 4.4e-10 4.8e-10 6.6e-10 5.9e-10
154 2.2e-10 2.4e-10 2.6e-10 2.5e-10 3.5e-10 3.0e-10
156 4.1e-10 4.2e-10 4.3e-10 5.0e-10 6.4e-10 5.8e-10
158 2.3e-10 2.45e-10 2.6e-10 2.6e-10 3.7e-10 3.2e-10
160 4.4e-10 4.3e-10 4.5e-10 4.9e-10 6.7e-10 6.1e-10
162 2.25e-10 2.35e-10 2.7e-10 2.45e-10 3.6e-10 3.1e-10
164 4.2e-10 4.1e-10 4.4e-10 5.0e-10 6.5e-10 5.6e-10
166 2.3e-10 2.4e-10 2.6e-10 2.6e-10 3.5e-10 3.3e-10
168 4.0e-10 4.4e-10 4.2e-10 4.8e-10 6.6e-10 5.9e-10
170 2.2e-10 2.45e-10 2.6e-10 2.5e-10 3.7e-10 3.0e-10
172 4.3e-10 4.2e-10 4.5e-10 5.1e-10 6.4e-10 5.8e-10
174 2.35e-10 2.3e-10 2.7e-10 2.6e-10 3.6e-10 3.2e-10
176 4.1e-10 4.3e-10 4.3e-10 4.9e-10 7.0e-10 6.0e-10
178 2.3e-10 2.4e-10 2.6e-10 2.45e-10 3.5e-10 3.1e-10
180 4.4e-10 4.1e-10 4.4e-10 5.0e-10 6.5e-10 5.7e-10
182 2.2e-10 2.35e-10 2.6e-10 2.55e-10 3.7e-10 3.3e-10
184 4.2e-10 4.4e-10 4.5e-10 4.8e-10 6.6e-10 5.9e-10
186 2.3e-10 2.45e-10 2.7e-10 2.5e-10 3.6e-10 3.0e-10
188 4.0e-10 4.2e-10 4.3e-10 5.0e-10 6.4e-10 5.8e-10
190 2.25e-10 2.4e-10 2.6e-10 2.6e-10 3.5e-10 3.2e-10
192 4.3e-10 4.3e-10 4.4e-10 4.9e-10 6.8e-10 6.1e-10
194 2.3e-10 2.3e-10 2.6e-10 2.45e-10 3.7e-10 3.1e-10
196 4.1e-10 4.4e-10 4.2e-10 5.1e-10 6.5e-10 5.6e-10
198 2.2e-10 2.4e-10 2.7e-10 2.55e-10 3.6e-10 3.3e-10
200 4.4e-10 4.2e-10 4.5e-10 4.8e-10 6.6e-10 5.9e-10
}\spectra
\pgfplotstableread{
f A25 A1
0.01 1.25e-9 5.0e-9
0.1 2.5e-10 1.0e-9
0.7 1.0e-10 4.0e-10
100 1.0e-10 4.0e-10
}\ade
\begin{document}
\begin{tikzpicture}
\path[use as bounding box] (-150pt,-88pt) rectangle (1050pt,712pt);
\begin{axis}[
  at={(0pt,0pt)}, anchor=south west,
  width=930pt, height=616pt, scale only axis,
  xmode=log, ymode=log,
  xmin=0.01, xmax=200, ymin=3.85e-11, ymax=1.69e-6,
  xtick={0.01,0.1,1,10,100},
  xticklabels={10\textsuperscript{−2},10\textsuperscript{−1},10\textsuperscript{0},10\textsuperscript{1},10\textsuperscript{2}},
  ytick={1e-10,1e-9,1e-8,1e-7,1e-6},
  yticklabels={10\textsuperscript{−10},10\textsuperscript{−9},10\textsuperscript{−8},10\textsuperscript{−7},10\textsuperscript{−6}},
  minor xtick={0.02,0.03,0.04,0.05,0.06,0.07,0.08,0.09,0.2,0.3,0.4,0.5,0.6,0.7,0.8,0.9,2,3,4,5,6,7,8,9,20,30,40,50,60,70,80,90,200},
  minor ytick={4e-11,5e-11,6e-11,7e-11,8e-11,9e-11,2e-10,3e-10,4e-10,5e-10,6e-10,7e-10,8e-10,9e-10,2e-9,3e-9,4e-9,5e-9,6e-9,7e-9,8e-9,9e-9,2e-8,3e-8,4e-8,5e-8,6e-8,7e-8,8e-8,9e-8,2e-7,3e-7,4e-7,5e-7,6e-7,7e-7,8e-7,9e-7},
  ticklabel style={font=\fontsize{6.15}{7.5}\selectfont},
  grid=both,
  major grid style={line width=0.5pt, draw=gridc},
  minor grid style={line width=0.5pt, draw=gridc},
  tick align=outside, tick pos=left,
  major tick length=2.43pt, minor tick length=1.39pt,
  tick style={black, line width=0.56pt},
  axis line style={line width=0.56pt},
  spec/.style={line width=2pt, line join=round},
  legend image code/.code={\draw[#1] (0pt,0pt) -- (30pt,0pt);},
  legend cell align=left,
  legend style={at={(1,1)}, xshift=-7pt, yshift=-7.5pt, anchor=north east,
    draw=legc, line width=0.5pt, rounded corners=3pt, fill=white, fill opacity=0.8, text opacity=1,
    font=\fontsize{13.8}{16}\selectfont, inner xsep=2pt, inner ysep=1.4pt, column sep=8.5pt,
    nodes={inner xsep=2.5pt, inner ysep=4.05pt, text height=10.3pt, text depth=3pt}},
]
\addplot[cH1, spec] table[x=f,y=H1]{\spectra};
\addlegendentry{HAM5\_CPSINF\_H1}
\addplot[cH2, spec] table[x=f,y=H2]{\spectra};
\addlegendentry{HAM5\_CPSINF\_H2}
\addplot[cH3, spec] table[x=f,y=H3]{\spectra};
\addlegendentry{HAM5\_CPSINF\_H3}
\addplot[cV1, spec] table[x=f,y=V1]{\spectra};
\addlegendentry{HAM5\_CPSINF\_V1}
\addplot[cV2, spec] table[x=f,y=V2]{\spectra};
\addlegendentry{HAM5\_CPSINF\_V2}
\addplot[cV3, spec] table[x=f,y=V3]{\spectra};
\addlegendentry{HAM5\_CPSINF\_V3}
\addplot[cA25, spec] table[x=f,y=A25]{\ade};
\addlegendentry{ADE .25mm noise}
\addplot[cA1, spec] table[x=f,y=A1]{\ade};
\addlegendentry{ADE 1mm noise}
\end{axis}
\node[font=\fontsize{17.5}{21}\selectfont, anchor=base] at (447pt,682pt) {HAM5 CPS Spectra};
\node[font=\fontsize{17.5}{21}\selectfont, anchor=base] at (453pt,663pt) {1364724000 to 1364724600};
\node[font=\fontsize{12}{14}\selectfont, anchor=base] at (465pt,-26.5pt) {Freq (hz)};
\node[font=\bfseries\fontsize{7.4}{9}\selectfont, anchor=base] at (461pt,-48pt) {calibration only >10hz};
\node[font=\fontsize{12}{14}\selectfont, rotate=90] at (-33pt,308pt) {m/rthz};
\node[font=\bfseries\fontsize{7.4}{9}\selectfont, rotate=90] at (993.5pt,518pt) {/opt/rtcds/userapps/trunk/sys/h1/scripts/HAM\_cps\_spectra.py};
\end{tikzpicture}
\end{document}
